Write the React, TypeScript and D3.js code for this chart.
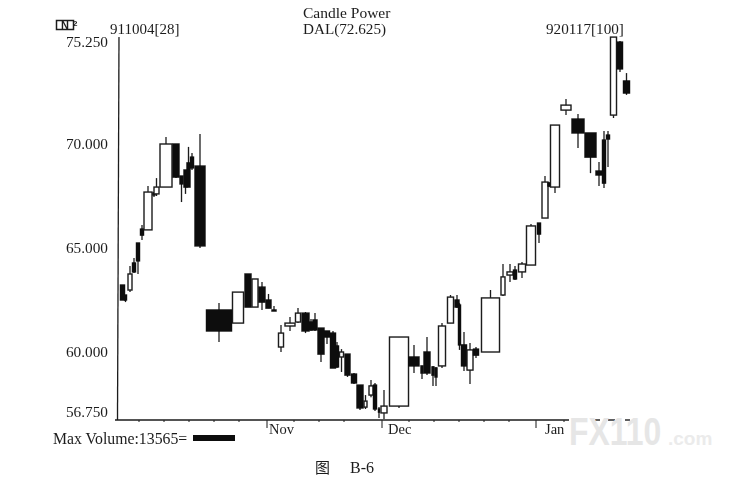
import React from "react";
import * as d3 from "d3";

const positions = [3.5,6.5,11,15,19,23,29,35,37.5,47,57,62.5,66.5,69.5,73,81,100,119,129,136,143,149.5,155,162,171,179,186.5,192,196,202,208,214,218,222.5,228.5,235,241,246.5,252,256,260,265,280,295,303,308,314,317,323,331.5,338,340.5,345,351,357,371.5,384,391,396,403,412,420,426,430,436,447,459,471.5,480,485,489,494.5,501,507.5];
const volumes = [4,2,4,3,3,3,8,2,5,12,6,3,3,3,3,10,25,11,6,6,6,5,4,5,10,5,7,3,4,6,5,5,3,4,5,5,6,3,4,3,1,6,19,10,2,6,2,2,7,6,4,2,5,6,5,18,4,6,3,7,9,3,6,2,9,10,12,11,6,3,3,6,5,6];
const highs = [63.22,62.74,64.13,64.52,65.24,66.11,67.98,67.69,68.36,70.34,70,68.46,68.75,69.86,69.57,70.48,62.36,62.88,63.75,63.51,63.36,62.79,62.21,61.30,61.68,62.11,61.92,61.59,61.87,61.15,61.01,61.01,60.48,60.14,59.90,58.99,58.41,57.93,58.65,58.51,57.35,58.17,60.72,60.34,59.33,60.72,59.33,59.28,61.39,62.74,62.74,62.36,60.96,60.43,60.24,62.98,64.23,64.23,64.13,64.33,66.15,66.20,68.46,68.17,70.91,72.16,71.44,70.53,69.13,70.62,70.62,75.14,74.95,73.41];
const lows = [62.50,62.40,62.88,63.80,63.75,65.38,65.87,67.45,67.50,67.93,68.36,67.21,67.60,67.93,68.75,65,60.48,61.39,62.16,62.16,62.02,62.11,61.97,60,61.01,61.39,60.91,61.01,61.01,59.52,60.38,59.23,59.23,59.04,58.80,58.46,57.21,57.26,57.83,57.16,56.83,56.78,57.31,58.99,58.70,58.89,58.37,58.37,59.23,61.39,62.11,60.10,59.09,58.46,59.71,60,62.69,63.36,63.46,63.56,64.18,65.24,66.44,67.93,67.64,71.39,69.81,68.60,67.98,67.88,68.89,71.25,73.46,72.36];
const opens = [63.22,62.74,62.98,64.28,65.24,65.91,65.87,67.64,67.60,67.93,70,68.46,68.75,69.09,69.37,68.94,62.02,61.39,63.75,62.16,63.12,62.50,62.02,60.24,61.25,61.44,61.87,61.44,61.54,61.15,61.01,60.91,60.29,59.76,59.90,58.94,58.41,57.35,57.93,58.41,57.26,57.07,57.40,59.76,59.33,60,59.28,59.23,59.33,61.39,62.50,62.26,60.34,59.13,60.14,60,62.74,63.70,63.94,63.85,64.18,66.20,66.44,68.12,67.93,71.63,71.20,70.53,68.70,70.19,70.43,71.39,74.90,73.03];
const closes = [62.50,62.50,63.75,63.85,64.38,65.62,67.69,67.55,67.93,70,68.41,68.08,67.93,67.93,68.85,65.10,61.01,62.88,62.16,63.51,62.40,62.11,61.97,60.91,61.39,61.87,61.01,61.06,61.06,59.90,60.72,59.23,59.28,60,58.89,58.51,57.31,57.64,58.37,57.26,57.11,57.40,60.72,59.33,58.99,58.99,58.89,58.80,61.25,62.64,62.16,60.34,59.33,60.10,59.85,62.60,63.61,63.85,63.51,64.23,66.06,65.67,68.17,67.98,70.91,71.87,70.53,69.37,68.51,68.12,70.24,75.14,73.61,72.45];

const yTickValues = [75.25, 70, 65, 60, 56.75];
const monthTicks = [{ label: "Nov", pos: 148, gap: 2 }, { label: "Dec", pos: 263, gap: 6 }, { label: "Jan", pos: 417, gap: 9 }];
const axisTail = [[476, 481], [489, 496], [506, 511]];
const minorTicks = [20, 45, 70, 95, 120, 175, 200, 225, 290, 315, 340, 365, 390, 445];

const W = 752, H = 485;
const x = d3.scaleLinear().domain([0, 520]).range([119, 639]);
const y = d3.scaleLinear().domain([56.75, 75.25]).range([419.6, 34.8]);
const INK = "#1c1c1c";
const SERIF = "'Liberation Serif', serif";

export default function App() {
  return (
    <svg width={W} height={H} style={{ position: "absolute", left: 0, top: 0, background: "#fff" }} fontFamily={SERIF}>
      <defs>
        <filter id="scan" x="-5%" y="-5%" width="110%" height="110%">
          <feGaussianBlur stdDeviation="0.4" />
        </filter>
      </defs>
      <g filter="url(#scan)">
        {/* frame */}
        <line x1={119} y1={37} x2={117.5} y2={420} stroke={INK} strokeWidth={1.3} />
        <line x1={115} y1={420} x2={569} y2={420} stroke={INK} strokeWidth={1.4} />
        {axisTail.map(([a, b], i) => (
          <line key={i} x1={x(a)} x2={x(b)} y1={420} y2={420} stroke={INK} strokeWidth={1.4} />
        ))}
        {minorTicks.map((t) => (
          <line key={t} x1={x(t)} x2={x(t)} y1={420} y2={422} stroke={INK} strokeWidth={1} />
        ))}
        {monthTicks.map((m) => (
          <g key={m.label}>
            <line x1={x(m.pos)} x2={x(m.pos)} y1={420} y2={428} stroke={INK} strokeWidth={1} />
            <text x={x(m.pos) + m.gap} y={434} fontSize={14.5} fill={INK}>{m.label}</text>
          </g>
        ))}
        {yTickValues.map((v) => (
          <text key={v} x={108} y={y(v) + (v === 75.25 ? 12.5 : v === 56.75 ? -3 : 5)} textAnchor="end" fontSize={15.3} fill={INK}>
            {v.toFixed(3)}
          </text>
        ))}

        {/* candles */}
        {positions.map((p, i) => {
          const up = closes[i] > opens[i];
          const top = y(Math.max(opens[i], closes[i]));
          const bot = y(Math.min(opens[i], closes[i]));
          const w = volumes[i];
          return (
            <g key={i}>
              <line x1={x(p)} x2={x(p)} y1={y(highs[i])} y2={y(lows[i])} stroke={INK} strokeWidth={1.3} />
              <rect
                x={x(p) - w / 2}
                y={top}
                width={w}
                height={Math.max(bot - top, 1)}
                fill={up ? "#fff" : "#0c0c0c"}
                stroke={up ? INK : "#0c0c0c"}
                strokeWidth={1.4}
              />
            </g>
          );
        })}

        {/* header */}
        <rect x={56.5} y={20.5} width={17} height={9} fill="none" stroke={INK} strokeWidth={1.5} />
        <text x={61} y={29} fontSize={11} fontWeight="bold" fontFamily="'Liberation Sans', sans-serif" fill={INK}>N</text>
        <text x={73} y={26} fontSize={8} fontWeight="bold" fontFamily="'Liberation Sans', sans-serif" fill={INK}>2</text>
        <text x={110} y={34} fontSize={15} fill={INK}>911004[28]</text>
        <text x={303} y={18} fontSize={15.5} fill={INK}>Candle Power</text>
        <text x={303} y={34} fontSize={15.2} fill={INK}>DAL(72.625)</text>
        <text x={546} y={34} fontSize={15.2} fill={INK}>920117[100]</text>

        {/* footer */}
        <text x={53} y={444} fontSize={15.8} fill={INK}>Max Volume:13565=</text>
        <rect x={193} y={435} width={42} height={6} fill="#0c0c0c" />
        <text x={315} y={473} fontSize={15} fontFamily="'Noto Sans CJK SC', sans-serif" fill={INK}>图</text>
        <text x={350} y={473} fontSize={16} fill={INK}>B-6</text>
      </g>

      {/* watermark */}
      <text transform="translate(569,445) scale(0.84,1)" fontSize={38} fontWeight="bold" fontFamily="'Liberation Sans', sans-serif" fill="#e6e6e6">FX110</text>
      <text x={668} y={445} fontSize={19} fontWeight="bold" fontFamily="'Liberation Sans', sans-serif" fill="#ebebeb">.com</text>
    </svg>
  );
}
